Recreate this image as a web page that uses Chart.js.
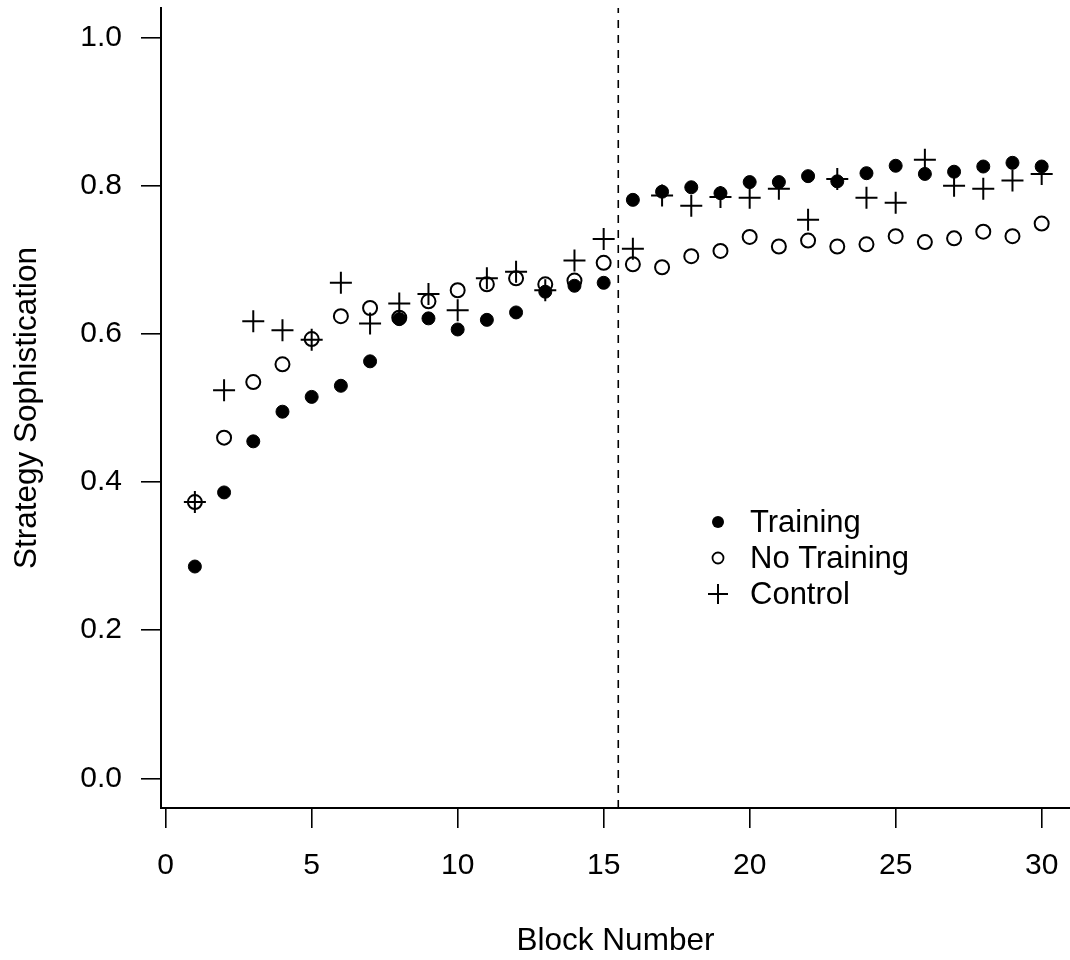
<!DOCTYPE html>
<html>
<head>
<meta charset="utf-8">
<title>Strategy Sophistication by Block</title>
<script src="https://cdn.jsdelivr.net/npm/chart.js@4.4.1/dist/chart.umd.min.js"></script>
<style>
  html, body { margin: 0; padding: 0; background: #fff; }
  #wrap { width: 1070px; height: 960px; }
</style>
</head>
<body>
<div id="wrap"><canvas id="sophChart" width="1070" height="960"></canvas></div>
<script>
// block numbers on the x axis
const blocks = [1, 2, 3, 4, 5, 6, 7, 8, 9, 10, 11, 12, 13, 14, 15,
                16, 17, 18, 19, 20, 21, 22, 23, 24, 25, 26, 27, 28, 29, 30];

// mean strategy sophistication per block, one list per group
const training = [0.286, 0.386, 0.455, 0.495, 0.515, 0.530, 0.563, 0.620, 0.621, 0.606,
                  0.619, 0.629, 0.657, 0.665, 0.669, 0.781, 0.792, 0.798, 0.790, 0.805,
                  0.805, 0.813, 0.806, 0.817, 0.827, 0.816, 0.819, 0.826, 0.831, 0.826];
const noTraining = [0.373, 0.460, 0.535, 0.559, 0.593, 0.624, 0.635, 0.622, 0.644, 0.659,
                    0.667, 0.675, 0.667, 0.672, 0.696, 0.694, 0.690, 0.705, 0.712, 0.731,
                    0.718, 0.726, 0.718, 0.721, 0.732, 0.724, 0.729, 0.738, 0.732, 0.749];
const control = [0.373, 0.524, 0.617, 0.605, 0.592, 0.669, 0.614, 0.641, 0.654, 0.632,
                 0.675, 0.684, 0.659, 0.699, 0.728, 0.715, 0.787, 0.773, 0.785, 0.784,
                 0.796, 0.754, 0.809, 0.784, 0.777, 0.835, 0.800, 0.796, 0.807, 0.816];

const seriesNames = ['Training', 'No Training', 'Control'];
const xTicks = [0, 5, 10, 15, 20, 25, 30];
const yTicks = [0, 0.2, 0.4, 0.6, 0.8, 1.0];
const phaseBreak = 15.5;   // dashed line between the two phases

const FONT = '"Liberation Sans", Arial, Helvetica, sans-serif';
Chart.defaults.font.family = FONT;
Chart.defaults.font.size = 30;
Chart.defaults.color = '#000';

function toPoints(values) {
  return values.map((v, i) => ({ x: blocks[i], y: v }));
}

// marker styles shared by the plot and the legend
const markers = [
  { pointStyle: 'circle', radius: 6.5, fill: '#000', width: 1 },
  { pointStyle: 'circle', radius: 7, fill: 'rgba(0,0,0,0)', width: 2 },
  { pointStyle: 'cross', radius: 11, fill: 'rgba(0,0,0,0)', width: 2 }
];

const datasets = [training, noTraining, control].map((vals, i) => ({
  label: seriesNames[i],
  data: toPoints(vals),
  pointStyle: markers[i].pointStyle,
  pointRadius: markers[i].radius,
  pointHoverRadius: markers[i].radius,
  pointBackgroundColor: markers[i].fill,
  pointBorderColor: '#000',
  pointBorderWidth: markers[i].width,
  showLine: false
}));

// keep the plot box fixed: no extra room reserved for edge tick labels
function noLabelPadding(scale) {
  scale.paddingTop = 0;
  scale.paddingBottom = 0;
  scale.paddingLeft = 0;
  scale.paddingRight = 0;
}

// vertical dashed line at the phase break + legend inside the plot
const extras = {
  id: 'extras',
  beforeDatasetsDraw(chart) {
    const { ctx, chartArea, scales } = chart;
    const x = scales.x.getPixelForValue(phaseBreak);
    ctx.save();
    ctx.strokeStyle = '#000';
    ctx.lineWidth = 1.6;
    ctx.setLineDash([8, 7]);
    ctx.beginPath();
    ctx.moveTo(x, chartArea.bottom);
    ctx.lineTo(x, chartArea.top);
    ctx.stroke();
    ctx.restore();
  },
  afterDatasetsDraw(chart) {
    const { ctx } = chart;
    const markX = 718, textX = 750, rowY = [522, 558, 594];
    ctx.save();
    ctx.font = '31px ' + FONT;
    ctx.textBaseline = 'middle';
    ctx.fillStyle = '#000';
    ctx.strokeStyle = '#000';
    seriesNames.forEach((name, i) => {
      const y = rowY[i];
      ctx.lineWidth = 2;
      ctx.beginPath();
      if (markers[i].pointStyle === 'cross') {
        ctx.moveTo(markX - 10, y); ctx.lineTo(markX + 10, y);
        ctx.moveTo(markX, y - 10); ctx.lineTo(markX, y + 10);
        ctx.stroke();
      } else if (i === 0) {
        ctx.arc(markX, y, 6, 0, Math.PI * 2);
        ctx.fill();
      } else {
        ctx.lineWidth = 1.8;
        ctx.arc(markX, y, 5.5, 0, Math.PI * 2);
        ctx.stroke();
      }
      ctx.fillText(name, textX, y + 1);
    });
    ctx.restore();
  }
};

const ctx = document.getElementById('sophChart').getContext('2d');
new Chart(ctx, {
  type: 'scatter',
  data: { datasets: datasets },
  plugins: [extras],
  options: {
    responsive: false,
    animation: false,
    devicePixelRatio: 1,
    layout: { autoPadding: false, padding: { top: 8, left: 0, right: 0, bottom: 0 } },
    plugins: {
      legend: { display: false },
      tooltip: { enabled: false }
    },
    scales: {
      x: {
        type: 'linear',
        min: -0.16,
        max: 30.97,
        afterBuildTicks: (scale) => { scale.ticks = xTicks.map(v => ({ value: v })); },
        afterFit: (scale) => { scale.height = 152; noLabelPadding(scale); },
        grid: { drawOnChartArea: false, drawTicks: true, tickLength: 20, color: '#000', lineWidth: 1.6 },
        border: { display: true, color: '#000', width: 2 },
        ticks: { padding: 20, maxRotation: 0, autoSkip: false, font: { size: 30 } },
        title: { display: true, text: 'Block Number', font: { size: 31.5 }, padding: 0 }
      },
      y: {
        type: 'linear',
        min: -0.04,
        max: 1.04,
        afterBuildTicks: (scale) => { scale.ticks = yTicks.map(v => ({ value: v })); },
        afterFit: (scale) => { scale.width = 161; noLabelPadding(scale); },
        grid: { drawOnChartArea: false, drawTicks: true, tickLength: 20, color: '#000', lineWidth: 1.6 },
        border: { display: true, color: '#000', width: 2 },
        ticks: { padding: 19, font: { size: 30 }, callback: (v) => v.toFixed(1) },
        title: { display: true, text: 'Strategy Sophistication', font: { size: 31.5 }, padding: { top: 8, bottom: 0 } }
      }
    }
  }
});
</script>
</body>
</html>
